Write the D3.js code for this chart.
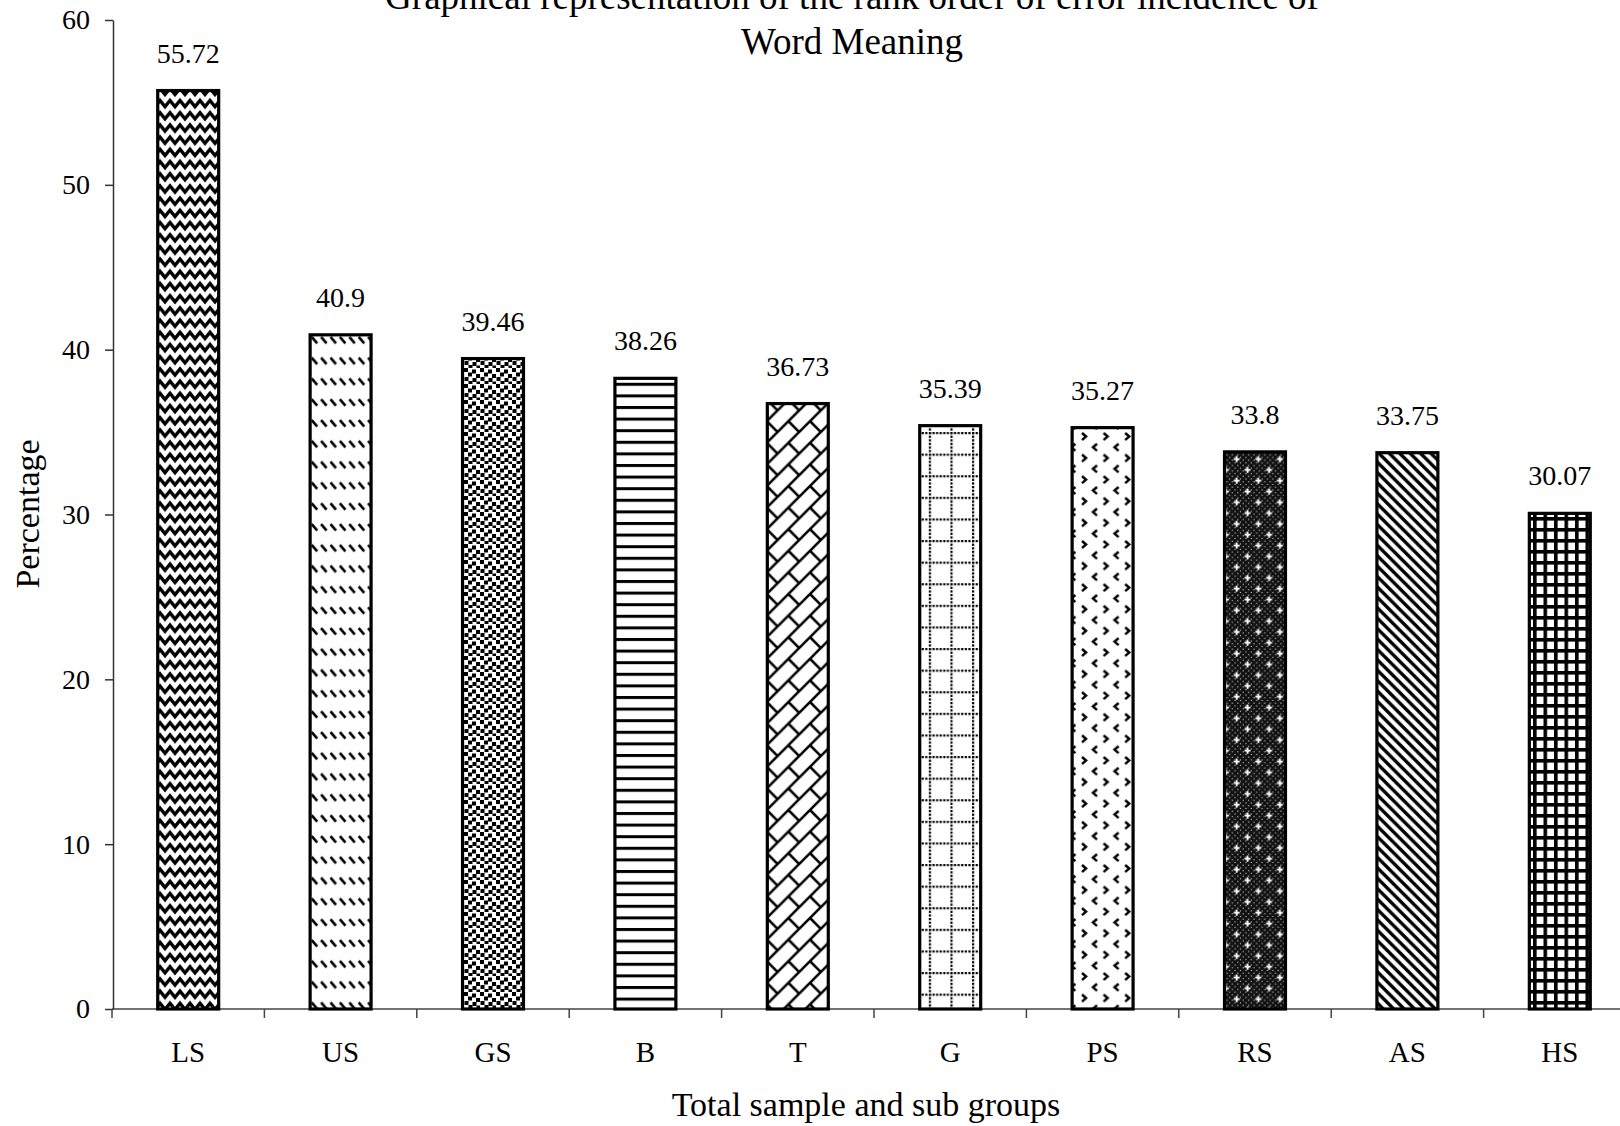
<!DOCTYPE html>
<html>
<head>
<meta charset="utf-8">
<script src="https://cdn.jsdelivr.net/npm/d3@7"></script>
<style>
  body { margin: 0; background: #fff; }
  svg text { font-family: "Liberation Serif", "Times New Roman", serif; fill: #000; }
</style>
</head>
<body>
<svg id="chart" width="1620" height="1126"></svg>
<script>
// values
const categories = ["LS", "US", "GS", "B", "T", "G", "PS", "RS", "AS", "HS"];
const percentages = [55.72, 40.9, 39.46, 38.26, 36.73, 35.39, 35.27, 33.8, 33.75, 30.07];
const valueLabels = ["55.72", "40.9", "39.46", "38.26", "36.73", "35.39", "35.27", "33.8", "33.75", "30.07"];
const yTicks = [0, 10, 20, 30, 40, 50, 60];
const titleLines = ["Graphical representation of the rank order of error incidence of", "Word Meaning"];
const xTitle = "Total sample and sub groups";
const yTitle = "Percentage";

const svg = d3.select("#chart");

const x = d3.scaleBand()
    .domain(categories)
    .range([112, 1636])
    .paddingInner(0.6)
    .paddingOuter(0.3);
const y = d3.scaleLinear()
    .domain([0, 60])
    .range([1009, 20]);

// ---- fill patterns (scanned excel hatch fills) ----
const defs = svg.append("defs");
function pattern(id, w, h, bg) {
    const p = defs.append("pattern")
        .attr("id", id)
        .attr("patternUnits", "userSpaceOnUse")
        .attr("width", w)
        .attr("height", h);
    p.append("rect").attr("width", w).attr("height", h).attr("fill", bg || "#fff");
    return p;
}
function strokePath(p, d, sw, col) {
    p.append("path").attr("d", d).attr("fill", "none")
        .attr("stroke", col || "#000").attr("stroke-width", sw);
}

// zig zag
let p = pattern("p-wave", 20, 12.2);
strokePath(p, "M-5,9L0,3L5,9L10,3L15,9L20,3L25,9", 3.4);

// dashed downward diagonal
p = pattern("p-dash", 9.4, 20.8);
strokePath(p, "M1.5,4L7,10.5", 2.6);

// confetti
p = pattern("p-confetti", 16, 16);
[[0, 0], [8, 1.5], [4, 4.5], [12, 6], [0.5, 9], [8.5, 10], [4.5, 13], [12.5, 13.5]].forEach(d => {
    p.append("rect").attr("x", d[0]).attr("y", d[1]).attr("width", 4).attr("height", 4).attr("fill", "#000");
});

// horizontal lines
p = pattern("p-horiz", 10, 11.6);
p.append("rect").attr("y", 0).attr("width", 10).attr("height", 3).attr("fill", "#000");

// diagonal brick
p = pattern("p-brick", 21.6, 21.6);
strokePath(p, "M-5,5L5,-5M-5,26.6L26.6,-5M16.6,26.6L26.6,16.6" +
    "M10.8,10.8L21.6,21.6M-10.8,-10.8L0,0M-10.8,10.8L0,21.6M10.8,-10.8L21.6,0", 2.6);

// dotted grid
p = pattern("p-dotgrid", 21.6, 21.6);
d3.range(6).forEach(i => {
    p.append("rect").attr("x", i * 3.6).attr("y", 0).attr("width", 2.2).attr("height", 2.2).attr("fill", "#000");
    p.append("rect").attr("x", 0).attr("y", i * 3.6).attr("width", 2.2).attr("height", 2.2).attr("fill", "#000");
});

// divot
p = pattern("p-divot", 21.6, 21.6);
strokePath(p, "M2,1L6,4.5L2,8", 2.5);
strokePath(p, "M17,11.8L13,15.3L17,18.8", 2.5);

// dark stipple with white sparks
p = pattern("p-sphere", 21.6, 21.6, "#111");
d3.range(8).forEach(i => d3.range(8).forEach(j => {
    if ((i + j) % 2 === 0) {
        p.append("rect").attr("x", i * 2.7 + 0.6).attr("y", j * 2.7 + 0.6)
            .attr("width", 1.2).attr("height", 1.2).attr("fill", "#bbb");
    }
}));
strokePath(p, "M2.5,5.5h6M5.5,2.5v6M13.3,16.3h6M16.3,13.3v6", 1.8, "#fff");

// dark downward diagonal
p = pattern("p-diag", 10.4, 10.4);
strokePath(p, "M-5.2,-5.2L15.6,15.6M-5.2,5.2L5.2,15.6M5.2,-5.2L15.6,5.2", 3.4);

// small grid
p = pattern("p-grid", 10.5, 11);
p.append("rect").attr("width", 3.6).attr("height", 11).attr("fill", "#000");
p.append("rect").attr("width", 10.5).attr("height", 3.6).attr("fill", "#000");

const barFills = ["p-wave", "p-dash", "p-confetti", "p-horiz", "p-brick",
    "p-dotgrid", "p-divot", "p-sphere", "p-diag", "p-grid"];

// ---- axes ----
const yAxis = svg.append("g")
    .attr("transform", "translate(113,0)")
    .call(d3.axisLeft(y).tickValues(yTicks).tickSize(8).tickPadding(15).tickSizeOuter(0));
yAxis.select(".domain").attr("stroke", "#333").attr("stroke-width", 1.5);
yAxis.selectAll(".tick line").attr("stroke", "#333").attr("stroke-width", 1.5);
yAxis.selectAll(".tick text").style("font-size", "28px");

// x axis: baseline plus ticks between the categories
const step = x.step();
const bounds = categories.map(c => x(c) + x.bandwidth() / 2 - step / 2);
bounds.push(bounds[bounds.length - 1] + step);
svg.append("line")
    .attr("x1", bounds[0]).attr("x2", bounds[bounds.length - 1])
    .attr("y1", y(0)).attr("y2", y(0))
    .attr("stroke", "#444").attr("stroke-width", 1.5);
svg.append("g").selectAll("line")
    .data(bounds)
    .join("line")
    .attr("x1", d => d).attr("x2", d => d)
    .attr("y1", y(0)).attr("y2", y(0) + 9)
    .attr("stroke", "#444").attr("stroke-width", 1.5);

svg.append("g").selectAll("text")
    .data(categories)
    .join("text")
    .attr("x", d => x(d) + x.bandwidth() / 2)
    .attr("y", 1062)
    .attr("text-anchor", "middle")
    .style("font-size", "29px")
    .text(d => d);

// ---- bars ----
svg.append("g").selectAll("rect")
    .data(percentages)
    .join("rect")
    .attr("x", (d, i) => x(categories[i]))
    .attr("y", d => y(d))
    .attr("width", x.bandwidth())
    .attr("height", d => y(0) - y(d))
    .attr("fill", (d, i) => `url(#${barFills[i]})`)
    .attr("stroke", "#000")
    .attr("stroke-width", 3.2);

svg.append("g").selectAll("text")
    .data(percentages)
    .join("text")
    .attr("x", (d, i) => x(categories[i]) + x.bandwidth() / 2)
    .attr("y", d => y(d) - 28)
    .attr("text-anchor", "middle")
    .style("font-size", "28px")
    .text((d, i) => valueLabels[i]);

// ---- titles ----
svg.append("g").selectAll("text")
    .data(titleLines)
    .join("text")
    .attr("x", 852)
    .attr("y", (d, i) => 9 + i * 45)
    .attr("text-anchor", "middle")
    .style("font-size", "37px")
    .text(d => d);

svg.append("text")
    .attr("x", 866)
    .attr("y", 1116)
    .attr("text-anchor", "middle")
    .style("font-size", "34px")
    .text(xTitle);

svg.append("text")
    .attr("transform", "translate(39,514) rotate(-90)")
    .attr("text-anchor", "middle")
    .style("font-size", "34px")
    .text(yTitle);
</script>
</body>
</html>
